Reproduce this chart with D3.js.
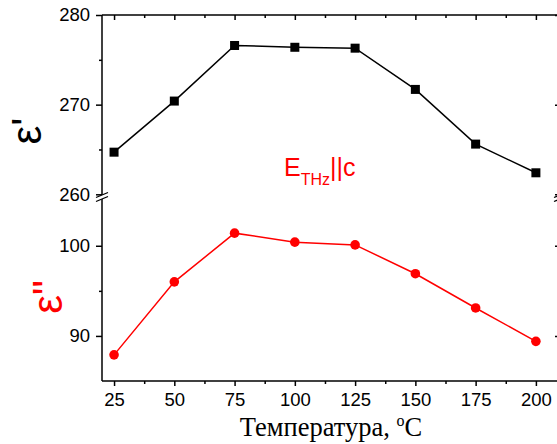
<!DOCTYPE html>
<html>
<head>
<meta charset="utf-8">
<script src="https://cdn.jsdelivr.net/npm/d3@7"></script>
<style>
  body { margin: 0; background: #fff; }
  svg { display: block; }
  .tick text { font-family: "Liberation Sans", Arial, sans-serif; font-size: 18.5px; fill: #000; }
  .tick line, .domain { stroke: #000; stroke-width: 1.5; }
</style>
</head>
<body>
<div id="chart"></div>
<script>
// temperatures, deg C
var temps = [25, 50, 75, 100, 125, 150, 175, 200];
// real part eps' (upper panel)
var epsReal = [264.7, 270.4, 276.6, 276.4, 276.3, 271.7, 265.6, 262.4];
// imaginary part eps'' (lower panel)
var epsImag = [87.9, 96.0, 101.4, 100.4, 100.1, 96.9, 93.1, 89.4];

var xTicks = [25, 50, 75, 100, 125, 150, 175, 200];
var xMinor = [37.5, 62.5, 87.5, 112.5, 137.5, 162.5, 187.5];
var topTicks = [260, 270, 280];
var topMinor = [265, 275];
var botTicks = [90, 100];
var botMinor = [95];

var W = 557, H = 444;
var pLeft = 102, pRight = 560, pTop = 15, pBottom = 381;

var svg = d3.select("#chart").append("svg")
  .attr("width", W).attr("height", H);

var x = d3.scaleLinear().domain([20, 210]).range([pLeft, pRight]);
var yTop = d3.scaleLinear().domain([259.7, 280]).range([197, pTop]);
var yBot = d3.scaleLinear().domain([85, 105.3]).range([pBottom, 198]);

function noDomain(g) { g.select(".domain").remove(); }

// bottom axis
svg.append("g").attr("transform", "translate(0," + pBottom + ")")
  .call(d3.axisBottom(x).tickValues(xTicks).tickSize(5).tickPadding(7).tickFormat(d3.format("d")))
  .call(noDomain);
svg.append("g").attr("transform", "translate(0," + pBottom + ")")
  .call(d3.axisBottom(x).tickValues(xMinor).tickSize(3).tickFormat(""))
  .call(noDomain);

// top axis, ticks pointing in
svg.append("g").attr("transform", "translate(0," + pTop + ")")
  .call(d3.axisTop(x).tickValues(xTicks).tickSize(-5).tickFormat(""))
  .call(noDomain);
svg.append("g").attr("transform", "translate(0," + pTop + ")")
  .call(d3.axisTop(x).tickValues(xMinor).tickSize(-3).tickFormat(""))
  .call(noDomain);

// left axes (and mirrored right ticks)
[[yTop, topTicks, topMinor], [yBot, botTicks, botMinor]].forEach(function (s) {
  svg.append("g").attr("transform", "translate(" + pLeft + ",0)")
    .call(d3.axisLeft(s[0]).tickValues(s[1]).tickSize(6).tickPadding(6).tickFormat(d3.format("d")))
    .call(noDomain);
  svg.append("g").attr("transform", "translate(" + pLeft + ",0)")
    .call(d3.axisLeft(s[0]).tickValues(s[2]).tickSize(3).tickFormat(""))
    .call(noDomain);
  svg.append("g").attr("transform", "translate(" + pRight + ",0)")
    .call(d3.axisRight(s[0]).tickValues(s[1]).tickSize(-5).tickFormat(""))
    .call(noDomain);
  svg.append("g").attr("transform", "translate(" + pRight + ",0)")
    .call(d3.axisRight(s[0]).tickValues(s[2]).tickSize(-3).tickFormat(""))
    .call(noDomain);
});

// frame
var frame = svg.append("g").attr("stroke", "#000").attr("stroke-width", 1.5);
frame.append("line").attr("x1", pLeft).attr("x2", pLeft).attr("y1", pTop).attr("y2", pBottom);
frame.append("line").attr("x1", pRight).attr("x2", pRight).attr("y1", pTop).attr("y2", pBottom);
frame.append("line").attr("x1", pLeft).attr("x2", pRight).attr("y1", pTop).attr("y2", pTop);
frame.append("line").attr("x1", pLeft).attr("x2", pRight).attr("y1", pBottom).attr("y2", pBottom);

// axis break marks
[pLeft, pRight].forEach(function (bx) {
  var by = 197.5;
  var b = svg.append("g").attr("transform", "translate(" + bx + "," + by + ")");
  b.append("path").attr("d", "M-6,0 L6,-5 L6,-1 L-6,4 Z").attr("fill", "#fff");
  b.append("path").attr("d", "M-6,0 L6,-5 M-6,4 L6,-1")
    .attr("stroke", "#000").attr("stroke-width", 1.3).attr("fill", "none");
});

// upper series
var lineTop = d3.line().x(function (d, i) { return x(temps[i]); }).y(function (d) { return yTop(d); });
svg.append("path").datum(epsReal).attr("d", lineTop)
  .attr("fill", "none").attr("stroke", "#000").attr("stroke-width", 1.5);
svg.selectAll(".sq").data(epsReal).join("rect")
  .attr("class", "sq")
  .attr("x", function (d, i) { return x(temps[i]) - 4.5; })
  .attr("y", function (d) { return yTop(d) - 4.5; })
  .attr("width", 9).attr("height", 9).attr("fill", "#000");

// lower series
var lineBot = d3.line().x(function (d, i) { return x(temps[i]); }).y(function (d) { return yBot(d); });
svg.append("path").datum(epsImag).attr("d", lineBot)
  .attr("fill", "none").attr("stroke", "#ff0000").attr("stroke-width", 1.5);
svg.selectAll(".dot").data(epsImag).join("circle")
  .attr("class", "dot")
  .attr("cx", function (d, i) { return x(temps[i]); })
  .attr("cy", function (d) { return yBot(d); })
  .attr("r", 4.8).attr("fill", "#ff0000");

// axis titles
var xt = svg.append("text")
  .attr("x", (pLeft + pRight) / 2).attr("y", 436)
  .attr("text-anchor", "middle")
  .attr("font-family", "'Liberation Serif', 'Times New Roman', serif")
  .attr("font-size", 26.5).attr("fill", "#000");
xt.append("tspan").text("Температура, ");
xt.append("tspan").attr("font-size", 16).attr("dy", -10).text("o");
xt.append("tspan").attr("dy", 10).text("C");

svg.append("text")
  .attr("transform", "translate(41,131) rotate(-90)")
  .attr("text-anchor", "middle")
  .attr("font-family", "'Liberation Sans', Arial, sans-serif")
  .attr("font-size", 42).attr("fill", "#000")
  .text("ε'");

svg.append("text")
  .attr("transform", "translate(62,297) rotate(-90)")
  .attr("text-anchor", "middle")
  .attr("font-family", "'Liberation Sans', Arial, sans-serif")
  .attr("font-size", 42).attr("fill", "#ff0000")
  .text("ε\"");

// label
var lab = svg.append("text")
  .attr("x", 284).attr("y", 176)
  .attr("font-family", "'Liberation Sans', Arial, sans-serif")
  .attr("font-size", 25).attr("fill", "#ff0000");
lab.append("tspan").text("E");
lab.append("tspan").attr("font-size", 16).attr("dy", 9).text("THz");
lab.append("tspan").attr("dy", -9).text("||c");
</script>
</body>
</html>
